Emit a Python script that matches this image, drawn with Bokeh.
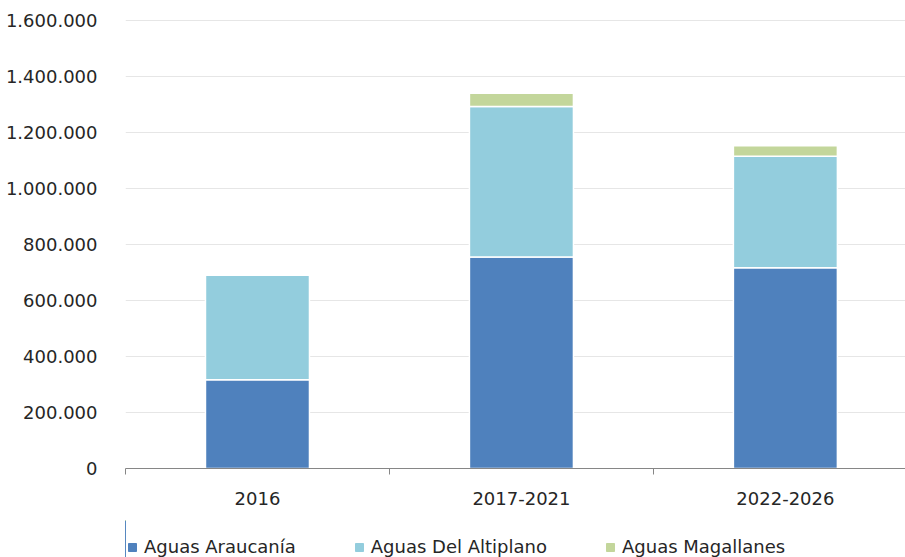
from bokeh.plotting import figure
from bokeh.layouts import column
from bokeh.models import Range1d, FixedTicker, CustomJSTickFormatter, Legend, LegendItem, ColumnDataSource
from bokeh.embed import file_html
from bokeh.resources import INLINE

categories = ["2016", "2017-2021", "2022-2026"]
araucania = [317000, 755000, 717000]
altiplano = [373000, 538000, 398000]
magallanes = [0, 47000, 38000]
series_names = ["Aguas Araucanía", "Aguas Del Altiplano", "Aguas Magallanes"]
colors = ["#4F81BD", "#93CDDD", "#C3D69B"]
y_ticks = [0, 200000, 400000, 600000, 800000, 1000000, 1200000, 1400000, 1600000]

FONT = "DejaVu Sans"
TXT = "#262626"

xpos = [i + 0.5 for i in range(len(categories))]
src = ColumnDataSource(dict(x=xpos, a=araucania, b=altiplano, c=magallanes))

p = figure(width=905, height=520, output_backend="svg", toolbar_location=None,
           x_range=Range1d(0, 2.955), y_range=Range1d(0, 1625000),
           min_border_left=125, min_border_right=0, min_border_top=13, min_border_bottom=52)

p.vbar_stack(["a", "b", "c"], x="x", width=0.394, source=src,
             color=colors, line_color="white", line_width=1.5)

p.xaxis.ticker = FixedTicker(ticks=xpos, minor_ticks=[0, 1, 2, 3])
p.xaxis.major_label_overrides = {x: c for x, c in zip(xpos, categories)}
p.xaxis.major_tick_out = 0
p.xaxis.major_tick_in = 0
p.xaxis.minor_tick_out = 6
p.xaxis.minor_tick_in = 0
p.xaxis.minor_tick_line_color = "#868686"
p.xaxis.axis_line_color = "#868686"
p.xaxis.major_label_standoff = 17
p.xaxis.major_label_text_font = FONT
p.xaxis.major_label_text_font_size = "18px"
p.xaxis.major_label_text_color = TXT

p.yaxis.ticker = FixedTicker(ticks=y_ticks)
p.yaxis.formatter = CustomJSTickFormatter(code="return Math.round(tick).toString().replace(/\\B(?=(\\d{3})+(?!\\d))/g, '.');")
p.yaxis.axis_line_color = None
p.yaxis.major_tick_line_color = None
p.yaxis.minor_tick_line_color = None
p.yaxis.major_label_standoff = 22
p.yaxis.major_label_text_font = FONT
p.yaxis.major_label_text_font_size = "18px"
p.yaxis.major_label_text_color = TXT

p.xgrid.grid_line_color = None
p.ygrid.grid_line_color = "#E6E6E6"
p.ygrid.ticker = FixedTicker(ticks=y_ticks)
p.outline_line_color = None

# legend strip below the chart (its frame is aligned with the chart's frame by the column)
pl = figure(width=905, height=37, output_backend="svg", toolbar_location=None,
            x_range=Range1d(10, 11), y_range=Range1d(0, 1),
            x_axis_type=None, y_axis_type=None,
            min_border_left=0, min_border_right=0, min_border_top=0, min_border_bottom=0)
pl.grid.visible = False
pl.outline_line_color = None
legend_renderers = pl.vbar_stack(["a", "b", "c"], x="x", width=0.394, source=src, color=colors)
items = [LegendItem(label=name, renderers=[r]) for name, r in zip(series_names, legend_renderers)]
legend = Legend(items=items, orientation="horizontal", location=(2, 0),
                label_text_font=FONT, label_text_font_size="18px", label_text_color=TXT,
                glyph_width=10, glyph_height=10, label_standoff=7, spacing=58,
                padding=1, margin=0, border_line_color=None, background_fill_alpha=0,
                label_height=18)
pl.add_layout(legend, "center")

layout = column(p, pl, spacing=0)
open("out.html", "w").write(file_html(layout, INLINE))
